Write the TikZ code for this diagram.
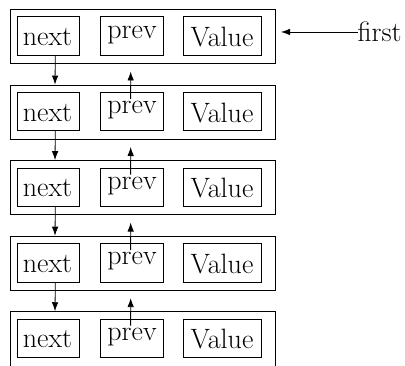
\documentclass[tikz,border=0pt]{standalone}
\usetikzlibrary{arrows.meta}
\begin{document}
\begin{tikzpicture}[x=1pt,y=-1pt,
  cell/.style={draw, line width=0.9pt, minimum width=265pt, inner sep=0pt},
  field/.style={draw, line width=0.7pt, minimum height=38.5pt, inner sep=0pt},
  fieldtext/.style={inner sep=0pt, anchor=base, font=\fontsize{28}{34}\selectfont},
  link/.style={line width=0.8pt, -{Latex[length=9pt,width=6.5pt]}}]
\useasboundingbox (0,0) rectangle (405,365);
\clip (0,0) rectangle (405,365);
% the five list cells, each with its next / prev / Value fields
\foreach \i in {1,...,5}{
  \pgfmathsetmacro{\ytop}{9.5+75.55*(\i-1)}
  \pgfmathsetmacro{\ch}{\i==5 ? 80 : 54}
  \node[cell, minimum height=\ch pt] (c\i) at (142.5,\ytop+\ch/2) {};
  \node[field, minimum width=62pt] (n\i) at (48.3,\ytop+26.5) {};
  \node[field, minimum width=63pt] (p\i) at (131.6,\ytop+26.5) {};
  \node[field, minimum width=78pt] (v\i) at (222,\ytop+26.5) {};
  \node[fieldtext] (nt\i) at (47.5,\ytop+36.2) {next};
  \node[fieldtext] (pt\i) at (132,\ytop+28.8) {prev};
  \node[fieldtext] (vt\i) at (222,\ytop+37.2) {Value};
}
% links between consecutive cells
\foreach \i/\j in {1/2,2/3,3/4,4/5}{
  \draw[link] ([xshift=7pt]n\i.south) -- ([xshift=-87.5pt]c\j.north);
  \draw[link] ([xshift=-1pt,yshift=-7pt]p\j.north) -- ([xshift=-11.8pt,yshift=-7.5pt]c\i.south);
}
% head pointer
\node[fieldtext, anchor=base west] (first) at (357.5,41.7) {first};
\coordinate (ftip) at (281,31.7);
\draw[link] (first.west) -- (first.west -| ftip);
\end{tikzpicture}
\end{document}
